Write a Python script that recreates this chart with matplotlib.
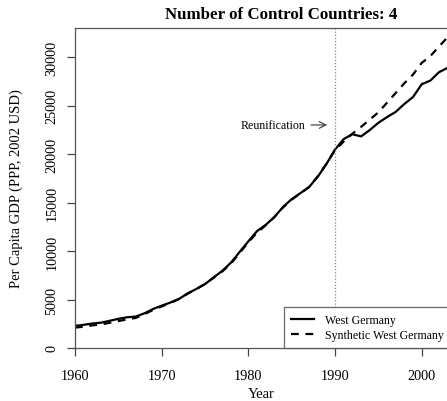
import matplotlib
matplotlib.use("Agg")
import matplotlib.pyplot as plt

years = list(range(1960, 2004))
west_germany = [2284, 2388, 2527, 2610, 2806, 3005, 3168, 3241, 3571, 4021,
                4367, 4686, 5060, 5629, 6090, 6587, 7285, 7960, 8807, 9914,
                11000, 12053, 12696, 13505, 14541, 15350, 15965, 16591, 17650, 18962,
                20466, 21546, 22049, 21818, 22470, 23224, 23812, 24349, 25167, 25884,
                27200, 27580, 28443, 28900]
synthetic = [2100, 2200, 2330, 2430, 2600, 2780, 2950, 3100, 3480, 3920,
             4280, 4650, 5050, 5600, 6080, 6600, 7250, 7900, 8700, 9800,
             10900, 11900, 12650, 13500, 14500, 15300, 15950, 16600, 17700, 19000,
             20400, 21300, 22100, 22800, 23550, 24300, 25300, 26300, 27300, 28200,
             29400, 30100, 31100, 32050]
xticks = [1960, 1970, 1980, 1990, 2000]
yticks = [0, 5000, 10000, 15000, 20000, 25000, 30000]

plt.rcParams['font.family'] = ['Liberation Serif', 'DejaVu Serif']

W, H = 447, 402
fig = plt.figure(figsize=(W / 100, H / 100), dpi=100)
left, right, top, bottom = 75, 447.7, 29, 349
ax = fig.add_axes([left / W, 1 - bottom / H, (right - left) / W, (bottom - top) / H])

ax.plot(years, west_germany, color='black', lw=1.6, solid_joinstyle='round', label='West Germany')
ax.plot(years, synthetic, color='black', lw=1.6, linestyle=(0, (3.5, 3)), label='Synthetic West Germany')
ax.axvline(1990, color='#888888', lw=0.9, linestyle=(0, (1, 1.5)))

ax.set_xlim(1960, 2003)
ax.set_ylim(0, 33000)
ax.set_xticks(xticks)
ax.set_yticks(yticks)
ax.set_yticklabels([str(v) for v in yticks], rotation=90, va='center')
ax.tick_params(axis='both', direction='out', length=6, width=0.9, color='#444444',
               labelsize=10.3)
ax.tick_params(axis='x', pad=9)
ax.tick_params(axis='y', pad=6)
for s in ax.spines.values():
    s.set_color('#555555')
    s.set_linewidth(0.9)
ax.spines['right'].set_color('#bbbbbb')

ax.set_xlabel('Year', fontsize=10.5, labelpad=4)
ax.set_ylabel('Per Capita GDP (PPP, 2002 USD)', fontsize=10.5, labelpad=16)

fig.text(281.5 / W, 1 - 15 / H, 'Number of Control Countries: 4', ha='center', va='center',
         fontsize=12.2, fontweight='bold')

ax.annotate('', xy=(1989.4, 23000), xytext=(1986.9, 23000),
            arrowprops=dict(arrowstyle='->', color='#333333', lw=0.8, mutation_scale=12))
ax.text(1986.6, 23000, 'Reunification', ha='right', va='center', fontsize=8.6)

leg = ax.legend(loc='lower right', bbox_to_anchor=(1.009, 0.0), borderaxespad=0,
                fontsize=8.6, frameon=True, fancybox=False, handlelength=1.95,
                handletextpad=0.9, borderpad=0.6, labelspacing=0.2)
leg.get_frame().set_edgecolor('#444444')
leg.get_frame().set_linewidth(0.9)

fig.savefig('out.png', dpi=100)
